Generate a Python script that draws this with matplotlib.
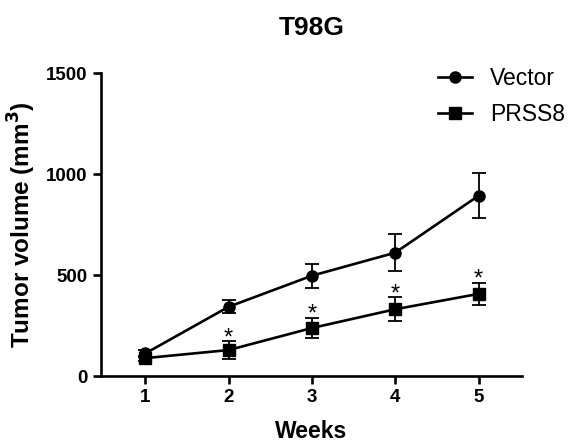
import matplotlib.pyplot as plt

plt.rcParams['font.family'] = ['Liberation Sans', 'DejaVu Sans']

weeks = [1, 2, 3, 4, 5]
vector_mean = [112, 343, 497, 611, 893]
vector_err = [15, 32, 60, 90, 110]
prss8_mean = [89, 129, 238, 331, 407]
prss8_err = [12, 45, 50, 60, 55]
significant = [False, True, True, True, True]

fig = plt.figure(figsize=(5.71, 4.43), dpi=100)
ax = fig.add_axes([0.177, 0.151, 0.737, 0.684])

# error bars drawn thinner than the lines
ax.errorbar(weeks, vector_mean, yerr=vector_err, fmt='none', ecolor='black',
            elinewidth=1.3, capsize=5, capthick=1.3)
ax.errorbar(weeks, prss8_mean, yerr=prss8_err, fmt='none', ecolor='black',
            elinewidth=1.3, capsize=5, capthick=1.3)
ax.plot(weeks, vector_mean, color='black', lw=1.9, marker='o', ms=8, label='Vector')
ax.plot(weeks, prss8_mean, color='black', lw=1.9, marker='s', ms=8, label='PRSS8')

for w, m, e, s in zip(weeks, prss8_mean, prss8_err, significant):
    if s:
        ax.text(w, m + e - 40, '*', ha='center', va='bottom', fontsize=17)

ax.set_xlim(0.47, 5.52)
ax.set_ylim(0, 1500)
ax.set_xticks(weeks)
ax.set_yticks([0, 500, 1000, 1500])
for side in ['top', 'right']:
    ax.spines[side].set_visible(False)
for side in ['left', 'bottom']:
    ax.spines[side].set_linewidth(1.9)
ax.tick_params(width=1.9, length=6, labelsize=13.5)
for lab in ax.get_xticklabels() + ax.get_yticklabels():
    lab.set_fontweight('bold')

ax.set_xlabel('Weeks', fontsize=16.5, fontweight='bold', labelpad=10)
ax.set_ylabel('Tumor volume (mm$^\\mathbf{3}$)', fontsize=17.5, fontweight='bold', labelpad=6)
fig.text(0.545, 0.937, 'T98G', ha='center', va='center', fontsize=19, fontweight='bold')

ax.legend(loc='upper right', bbox_to_anchor=(1.006, 0.869), bbox_transform=fig.transFigure,
          frameon=False, fontsize=16.5, handlelength=1.5, handletextpad=0.8,
          labelspacing=0.55, borderaxespad=0)

fig.savefig('out.png', dpi=100)
